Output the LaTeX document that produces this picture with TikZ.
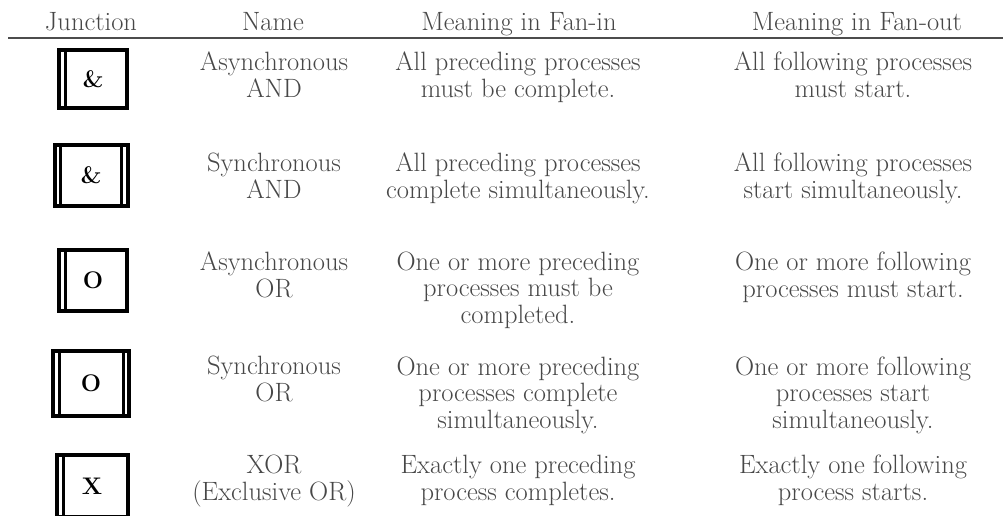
\documentclass[tikz,border=0pt]{standalone}
\usetikzlibrary{positioning}

\begin{document}
\begin{tikzpicture}
 [ x=1pt, y=-1pt
 , every node/.style={inner sep=0pt, outer sep=0pt}
 , cell/.style={anchor=base, align=center, text=black!72, font=\fontsize{26.5}{26.5}\selectfont}
 , header/.style={cell}
 , async/.style={draw=black, line width=4pt, minimum width=68pt, minimum height=58pt, text=black, font=\fontsize{24}{24}\selectfont\bfseries}
 , sync/.style={async, minimum width=73pt, minimum height=61pt}
 , bar/.style={draw=black, line width=3pt}
 ]
  \clip (0,0) rectangle (1003,515);
  \useasboundingbox (0,0) rectangle (1003,515);

  % headers
  \node [header] (hJunction) at (91,30) {Junction};
  \node [header] (hName)     at (273,30) {Name};
  \node [header] (hFanIn)    at (519,30) {Meaning in Fan-in};
  \node [header] (hFanOut)   at (857,30) {Meaning in Fan-out};
  \draw [black!70, line width=1.5pt] (8,38) -- (1003,38);

  % asynchronous AND
  \node [async] (jAsyncAnd) at (93,79) {\&};
  \draw [bar] ([xshift=6pt]jAsyncAnd.north west) -- ([xshift=6pt]jAsyncAnd.south west);
  \node [cell] (nAsyncAnd)   at (274,97) {Asynchronous\\AND};
  \node [cell] (inAsyncAnd)  at (518,97) {All preceding processes\\must be complete.};
  \node [cell] (outAsyncAnd) at (853,97) {All following processes\\must start.};

  % synchronous AND
  \node [sync] (jSyncAnd) at (91,175) {\&};
  \draw [bar] ([xshift=6pt]jSyncAnd.north west) -- ([xshift=6pt]jSyncAnd.south west);
  \draw [bar] ([xshift=-6pt]jSyncAnd.north east) -- ([xshift=-6pt]jSyncAnd.south east);
  \node [cell] (nSyncAnd)   at (274,198) {Synchronous\\AND};
  \node [cell] (inSyncAnd)  at (518,198) {All preceding processes\\complete simultaneously.};
  \node [cell] (outSyncAnd) at (853,198) {All following processes\\start simultaneously.};

  % asynchronous OR
  \node [async, minimum height=61pt] (jAsyncOr) at (93,280) {O};
  \draw [bar] ([xshift=6pt]jAsyncOr.north west) -- ([xshift=6pt]jAsyncOr.south west);
  \node [cell] (nAsyncOr)   at (274,297) {Asynchronous\\OR};
  \node [cell] (inAsyncOr)  at (518,323) {One or more preceding\\processes must be\\completed.};
  \node [cell] (outAsyncOr) at (853,297) {One or more following\\processes must start.};

  % synchronous OR
  \node [sync, minimum width=76pt, minimum height=65pt] (jSyncOr) at (91,383) {O};
  \draw [bar] ([xshift=6pt]jSyncOr.north west) -- ([xshift=6pt]jSyncOr.south west);
  \draw [bar] ([xshift=-6pt]jSyncOr.north east) -- ([xshift=-6pt]jSyncOr.south east);
  \node [cell] (nSyncOr)   at (274,401) {Synchronous\\OR};
  \node [cell] (inSyncOr)  at (518,428) {One or more preceding\\processes complete\\simultaneously.};
  \node [cell] (outSyncOr) at (853,428) {One or more following\\processes start\\simultaneously.};

  % exclusive OR
  \node [async, minimum width=71pt, minimum height=62pt] (jXor) at (92,486) {X};
  \draw [bar] ([xshift=7pt]jXor.north west) -- ([xshift=7pt]jXor.south west);
  \node [cell] (nXor)   at (274,500) {XOR\\(Exclusive OR)};
  \node [cell] (inXor)  at (518,500) {Exactly one preceding\\process completes.};
  \node [cell] (outXor) at (853,500) {Exactly one following\\process starts.};
\end{tikzpicture}
\end{document}
